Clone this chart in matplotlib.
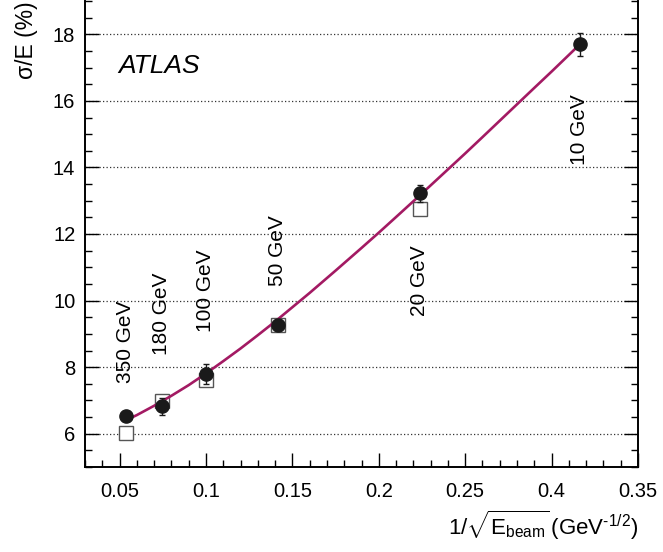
import numpy as np
import matplotlib
matplotlib.use("Agg")
import matplotlib.pyplot as plt
from matplotlib.ticker import MultipleLocator, FixedLocator, FixedFormatter

plt.rcParams['font.family'] = ['Liberation Sans', 'DejaVu Sans']
plt.rcParams['mathtext.fontset'] = 'custom'
plt.rcParams['mathtext.rm'] = 'Liberation Sans'
plt.rcParams['mathtext.it'] = 'Liberation Sans:italic'

# Beam energies (GeV) and measured resolution sigma/E (%)
energies = [350, 180, 100, 50, 20, 10]
energy_labels = ['350 GeV', '180 GeV', '100 GeV', '50 GeV', '20 GeV', '10 GeV']
res_data = [6.52, 6.82, 7.78, 9.27, 13.22, 17.70]
res_data_err = [0.15, 0.25, 0.30, 0.15, 0.25, 0.35]
res_sim = [6.03, 6.97, 7.60, 9.28, 12.76]

# Fitted curve
curve_x = [0.0535, 0.06, 0.07, 0.08, 0.09, 0.10, 0.11, 0.12, 0.13, 0.14,
           0.15, 0.16, 0.175, 0.19, 0.20, 0.21, 0.225, 0.24, 0.25, 0.26,
           0.275, 0.29, 0.30, 0.31, 0.316]
curve_y = [6.40, 6.56, 6.84, 7.14, 7.46, 7.81, 8.18, 8.56, 8.96, 9.37,
           9.80, 10.23, 10.90, 11.58, 12.04, 12.51, 13.22, 13.94, 14.42, 14.91,
           15.65, 16.39, 16.88, 17.38, 17.68]

# x tick labels as printed on the original (note "0.4" in place of 0.3)
xtick_vals = [0.05, 0.10, 0.15, 0.20, 0.25, 0.30, 0.35]
xtick_labels = ['0.05', '0.1', '0.15', '0.2', '0.25', '0.4', '0.35']

# label positions (centre, in data units of y)
label_y = [8.75, 9.6, 10.3, 11.5, 10.6, 15.15]


def main():
    x = 1.0 / np.sqrt(np.asarray(energies, dtype=float))

    fig = plt.figure(figsize=(6.63, 5.52), dpi=100)
    ax = fig.add_axes([85 / 663, 1 - 467 / 552, (638 - 85) / 663, (467 - 1) / 552])
    ax.set_xlim(0.03, 0.35)
    ax.set_ylim(5.0, 19.0)

    for yv in range(6, 19, 2):
        ax.axhline(yv, color='#333333', lw=0.9, ls=(0, (1, 1.8)), zorder=1)

    ax.plot(curve_x, curve_y, color='#a31a63', lw=1.9, zorder=3)
    ax.plot(x[:len(res_sim)], res_sim, ls='none', marker='s', ms=10,
            mfc='white', mec='#555555', mew=1.0, zorder=2)
    ax.errorbar(x, res_data, yerr=res_data_err, fmt='o', ms=9.5, color='#1a1a1a',
                ecolor='#1a1a1a', elinewidth=1.0, capsize=2, capthick=1.0, zorder=4)

    for xi, lab, ly in zip(x, energy_labels, label_y):
        ax.text(xi, ly, lab, rotation=90, ha='center', va='center', fontsize=15)

    ax.text(0.0495, 17.05, 'ATLAS', fontsize=19, style='italic', ha='left', va='center')

    ax.xaxis.set_major_locator(FixedLocator(xtick_vals))
    ax.xaxis.set_major_formatter(FixedFormatter(xtick_labels))
    ax.xaxis.set_minor_locator(MultipleLocator(0.01))
    ax.yaxis.set_major_locator(MultipleLocator(2))
    ax.yaxis.set_minor_locator(MultipleLocator(0.5))
    ax.tick_params(which='both', direction='in', right=True, top=False, width=1.0,
                   labelsize=14.5)
    ax.tick_params(which='major', length=10)
    ax.tick_params(which='minor', length=5)
    ax.tick_params(axis='x', pad=11)
    ax.tick_params(axis='y', pad=7)
    for s in ['left', 'right', 'bottom']:
        ax.spines[s].set_linewidth(1.4)
    ax.spines['top'].set_visible(False)

    fig.text(638 / 663, 1 - 525 / 552,
             r'$\mathrm{1/\sqrt{E_{beam}}\,(GeV^{\text{-}1/2})}$',
             ha='right', va='center', fontsize=16)
    fig.text(27 / 663, 1 - 1 / 552, 'σ/E (%)', rotation=90, ha='center', va='top',
             fontsize=16.5)

    fig.savefig('out.png', dpi=100)


if __name__ == "__main__":
    main()
